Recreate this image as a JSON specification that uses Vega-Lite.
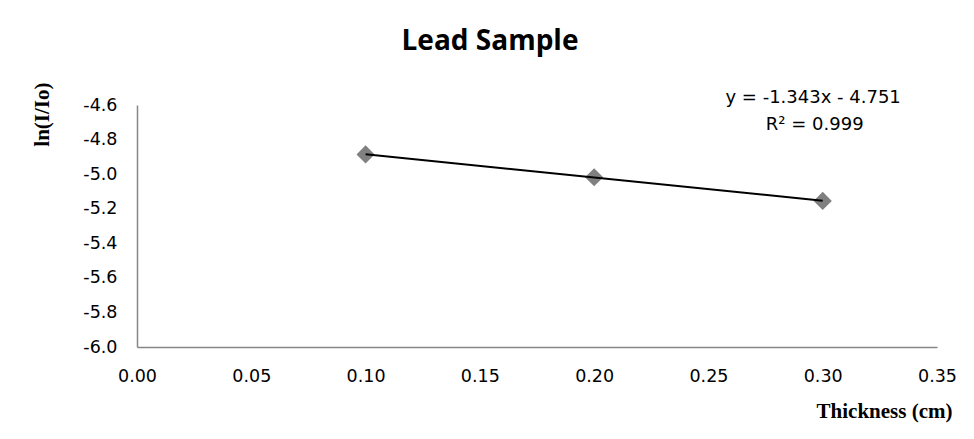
{
  "$schema": "https://vega.github.io/schema/vega-lite/v6.json",
  "autosize": "none",
  "width": 800,
  "height": 242,
  "padding": {"left": 137, "top": 105, "right": 37, "bottom": 92},
  "background": "white",
  "title": {
    "text": "Lead Sample",
    "font": "Open Sans",
    "fontSize": 28,
    "fontWeight": "bold",
    "color": "#000000",
    "anchor": "middle",
    "dx": -47,
    "offset": 28,
    "dy": 24,
    "baseline": "alphabetic"
  },
  "data": {
    "values": [
      {"thickness": 0.1, "lnI": -4.886},
      {"thickness": 0.2, "lnI": -5.018},
      {"thickness": 0.3, "lnI": -5.155}
    ]
  },
  "config": {
    "view": {"stroke": null},
    "axis": {
      "grid": false,
      "ticks": false,
      "domainColor": "#868686",
      "domainWidth": 1.5,
      "labelFont": "DejaVu Sans",
      "labelFontSize": 17.5,
      "labelColor": "#000000",
      "titleFont": "Liberation Serif",
      "titleFontWeight": "bold",
      "titleFontSize": 21,
      "titleColor": "#000000"
    }
  },
  "encoding": {
    "x": {
      "field": "thickness",
      "type": "quantitative",
      "scale": {"domain": [0, 0.35], "nice": false, "zero": false},
      "axis": {
        "title": "Thickness (cm)",
        "values": [0, 0.05, 0.1, 0.15, 0.2, 0.25, 0.3, 0.35],
        "format": ".2f",
        "labelPadding": 20,
        "labelFlush": false,
        "labelOverlap": false,
        "titleAnchor": "end",
        "titleAlign": "right",
        "titleBaseline": "middle",
        "titleX": 815,
        "titleY": 64
      }
    },
    "y": {
      "field": "lnI",
      "type": "quantitative",
      "scale": {"domain": [-6, -4.6], "nice": false, "zero": false},
      "axis": {
        "title": "ln(I/Io)",
        "values": [-6, -5.8, -5.6, -5.4, -5.2, -5, -4.8, -4.6],
        "labelExpr": "replace(format(datum.value, '.1f'), '\u2212', '-')",
        "labelPadding": 20,
        "labelFlush": false,
        "labelOverlap": false,
        "titleAnchor": "end",
        "titleAngle": -90,
        "titleAlign": "right",
        "titleBaseline": "middle",
        "titleX": -95,
        "titleY": -23
      }
    }
  },
  "layer": [
    {
      "mark": {"type": "point", "shape": "diamond", "filled": true, "size": 330, "color": "#808080", "opacity": 1}
    },
    {
      "transform": [{"regression": "lnI", "on": "thickness"}],
      "mark": {"type": "line", "color": "#000000", "strokeWidth": 2}
    },
    {
      "data": {"values": [{"label": "y = -1.343x - 4.751", "lx": 0.2958, "ly": -4.56}, {"label": "R² = 0.999", "lx": 0.2965, "ly": -4.716}]},
      "mark": {"type": "text", "font": "DejaVu Sans", "fontSize": 18, "color": "#000000", "align": "center", "baseline": "middle"},
      "encoding": {
        "x": {"field": "lx", "type": "quantitative"},
        "y": {"field": "ly", "type": "quantitative"},
        "text": {"field": "label"}
      }
    }
  ]
}
